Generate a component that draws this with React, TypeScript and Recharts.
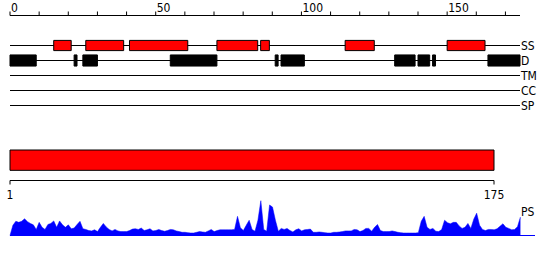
import React from "react";
import { ComposedChart, AreaChart, Area, Scatter, XAxis, YAxis, ReferenceLine, ReferenceArea } from "recharts";

// tracks shown above the sequence bar
const trackNames = ["SS", "D", "TM", "CC", "SP"];
const topTicks = [0, 10, 20, 30, 40, 50, 60, 70, 80, 90, 100, 110, 120, 130, 140, 150, 160, 170];
const topTickLabels = [0, 50, 100, 150];

// secondary structure segments
const ssStarts = [15, 26, 41, 71, 86, 115, 150];
const ssEnds = [21, 39, 61, 85, 89, 125, 163];

// disorder segments
const dStarts = [0, 22, 25, 55, 91, 93, 132, 140, 145, 164];
const dEnds = [9, 23, 30, 71, 92, 101, 139, 144, 146, 175];

// full sequence
const seqRange = [1, 175];

// PS profile, position 0..175
const psScores = [
  0, 0.29, 0.4, 0.37, 0.4, 0.47, 0.39, 0.34, 0.3, 0.17,
  0.37, 0.23, 0.17, 0.31, 0.34, 0.41, 0.23, 0.41, 0.3, 0.23,
  0.3, 0.19, 0.21, 0.31, 0.4, 0.19, 0.17, 0.14, 0.13, 0.16,
  0.11, 0.23, 0.34, 0.24, 0.17, 0.13, 0.17, 0.13, 0.11, 0.11,
  0.11, 0.14, 0.18, 0.19, 0.17, 0.21, 0.14, 0.16, 0.19, 0.13,
  0.14, 0.17, 0.14, 0.12, 0.14, 0.17, 0.16, 0.13, 0.11, 0.09,
  0.09, 0.08, 0.07, 0.07, 0.09, 0.11, 0.1, 0.09, 0.13, 0.17,
  0.11, 0.14, 0.16, 0.16, 0.16, 0.16, 0.16, 0.17, 0.54, 0.22,
  0.14, 0.29, 0.43, 0.17, 0.12, 0.43, 0.98, 0.17, 0.12, 0.86,
  0.8, 0.43, 0.12, 0.2, 0.17, 0.2, 0.14, 0.1, 0.16, 0.19,
  0.13, 0.16, 0.17, 0.18, 0.09, 0.09, 0.1, 0.09, 0.08, 0.07,
  0.07, 0.09, 0.09, 0.1, 0.11, 0.13, 0.13, 0.13, 0.17, 0.16,
  0.11, 0.14, 0.2, 0.2, 0.12, 0.23, 0.31, 0.14, 0.11, 0.11,
  0.11, 0.13, 0.11, 0.09, 0.08, 0.07, 0.07, 0.07, 0.07, 0.07,
  0.08, 0.4, 0.54, 0.23, 0.17, 0.2, 0.12, 0.11, 0.17, 0.43,
  0.36, 0.33, 0.37, 0.37, 0.27, 0.2, 0.23, 0.34, 0.2, 0.46,
  0.63, 0.29, 0.17, 0.14, 0.17, 0.17, 0.16, 0.19, 0.26, 0.33,
  0.23, 0.2, 0.16, 0.17, 0.25, 0.52,
];

const FONT = "'DejaVu Sans Condensed', 'DejaVu Sans', sans-serif";
const trackData = trackNames.map((name, track) => ({ name, track, pos: 0 }));
const seqData = seqRange.map((pos) => ({ pos, y: 0 }));
const psData = psScores.map((score, pos) => ({ pos, score }));

function TopTick(props: any) {
  const { x, y, payload } = props;
  if (!topTickLabels.includes(payload.value)) return <g />;
  return (
    <text x={x + 1} y={y} fontSize={12} fontFamily={FONT} fill="#000">
      {payload.value}
    </text>
  );
}

const Nothing = () => <g />;

export default function App() {
  return (
    <div style={{ position: "fixed", left: 0, top: 0, width: 550, height: 260, background: "#fff" }}>
      <div style={{ position: "absolute", left: 0, top: 0 }}>
        <ComposedChart width={550} height={115} data={trackData} margin={{ top: 0.5, right: 0, bottom: 9.5, left: 10 }}>
          <XAxis
            dataKey="pos"
            type="number"
            orientation="top"
            domain={[0, 175]}
            ticks={topTicks}
            interval={0}
            height={15}
            tickSize={4}
            tickMargin={0}
            tick={<TopTick />}
            stroke="#000"
          />
          <YAxis
            dataKey="track"
            type="number"
            orientation="right"
            domain={[-2, 4]}
            reversed
            ticks={[0, 1, 2, 3, 4]}
            interval={0}
            tickFormatter={(v: number) => trackNames[v]}
            width={30}
            tickSize={0}
            tickMargin={1}
            axisLine={false}
            tickLine={false}
            tick={{ fill: "#000", fontSize: 12, fontFamily: FONT }}
          />
          <Scatter dataKey="track" shape={<Nothing />} isAnimationActive={false} />
          {trackNames.map((name, i) => (
            <ReferenceLine key={name} y={i} stroke="#000" strokeWidth={1} />
          ))}
          {ssStarts.map((s, i) => (
            <ReferenceArea
              key={"ss" + i}
              x1={s}
              x2={ssEnds[i]}
              y1={-0.34}
              y2={0.34}
              fill="#ff0000"
              fillOpacity={1}
              stroke="#000"
              strokeWidth={1}
              zIndex={600}
            />
          ))}
          {dStarts.map((s, i) => (
            <ReferenceArea
              key={"d" + i}
              x1={s}
              x2={dEnds[i]}
              y1={0.63}
              y2={1.37}
              fill="#000"
              fillOpacity={1}
              stroke="#000"
              strokeWidth={1}
              zIndex={600}
            />
          ))}
        </ComposedChart>
      </div>

      <div style={{ position: "absolute", left: 0, top: 140 }}>
        <ComposedChart width={550} height={66} data={seqData} margin={{ top: 10, right: 56, bottom: 0, left: 10 }}>
          <XAxis
            dataKey="pos"
            type="number"
            domain={seqRange}
            ticks={seqRange}
            interval={0}
            height={25.5}
            tickSize={4}
            tickMargin={6}
            stroke="#000"
            tick={{ fill: "#000", fontSize: 12, fontFamily: FONT }}
          />
          <YAxis dataKey="y" type="number" domain={[0, 3]} hide />
          <Scatter dataKey="y" shape={<Nothing />} isAnimationActive={false} />
          <ReferenceArea
            x1={seqRange[0]}
            x2={seqRange[1]}
            y1={1}
            y2={3}
            fill="#ff0000"
            fillOpacity={1}
            stroke="#000"
            strokeWidth={1}
          />
        </ComposedChart>
      </div>

      <div style={{ position: "absolute", left: 0, top: 190 }}>
        <AreaChart width={550} height={50} data={psData} margin={{ top: 10, right: 15, bottom: 4.5, left: 10 }}>
          <XAxis dataKey="pos" type="number" domain={[0, 180]} hide />
          <YAxis type="number" domain={[0, 1]} hide />
          <Area
            type="linear"
            dataKey="score"
            stroke="#0000ff"
            strokeWidth={0.5}
            fill="#0000ff"
            fillOpacity={1}
            dot={false}
            activeDot={false}
            isAnimationActive={false}
          />
          <ReferenceLine y={0} stroke="#0000ff" strokeWidth={1} />
          <text x={521} y={26} fontSize={12} fontFamily={FONT} fill="#000">
            PS
          </text>
        </AreaChart>
      </div>
    </div>
  );
}
